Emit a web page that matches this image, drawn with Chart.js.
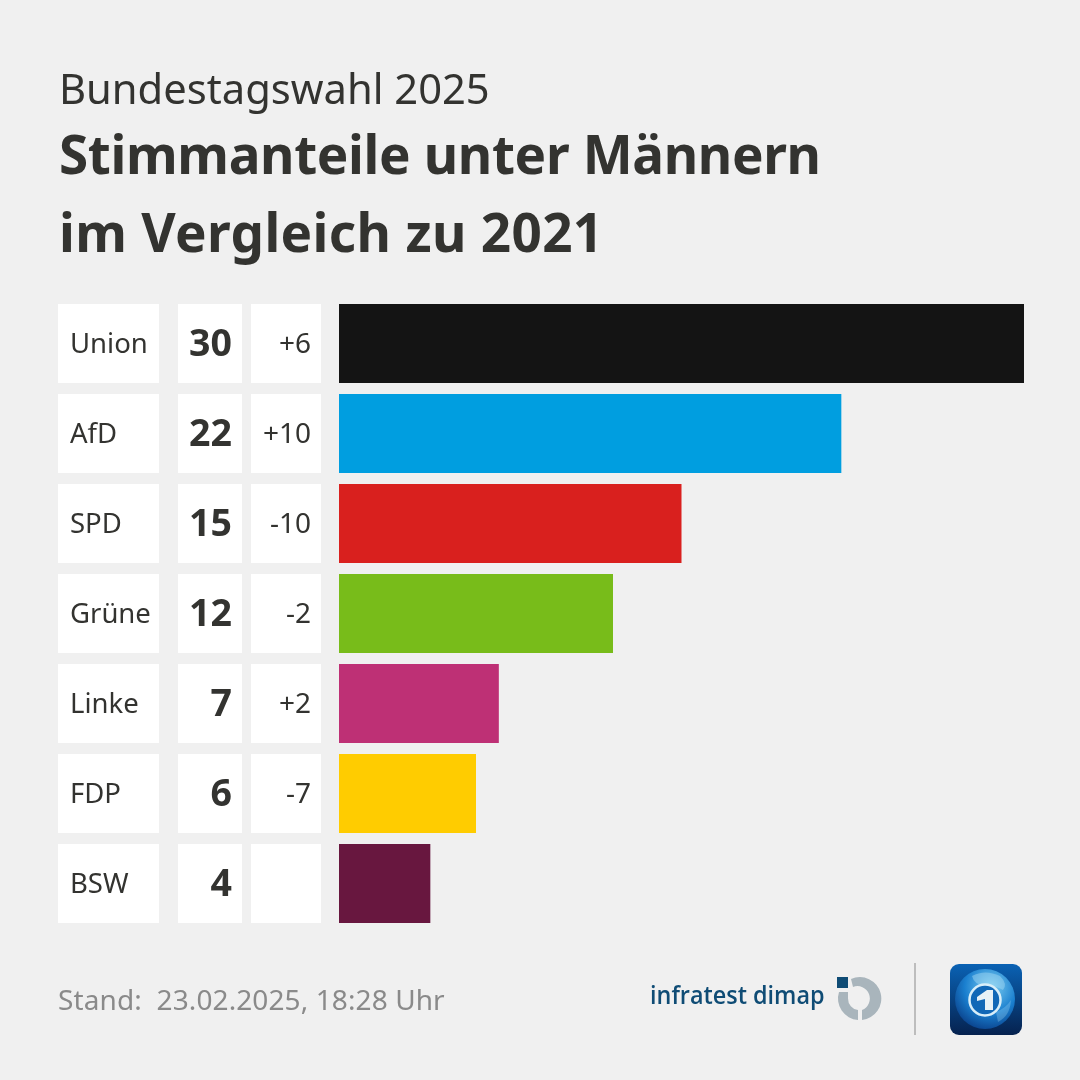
<!DOCTYPE html>
<html lang="de"><head><meta charset="utf-8">
<style>
html,body{margin:0;padding:0;background:#f0f0f0;width:1080px;height:1080px;overflow:hidden}
#wrap{position:relative;width:1080px;height:1080px}
canvas{position:absolute;left:0;top:0}
.t{position:absolute;white-space:nowrap;font-family:"Noto Sans";color:#333330;line-height:1}
svg{position:absolute}
</style></head><body>
<div id="wrap">
<canvas id="c" width="1080" height="1080"></canvas>
<div class="t" style="left:59px;top:67px;font-size:41.7px">Bundestagswahl 2025</div>
<div class="t" style="left:59px;top:127px;font-size:53px;font-weight:700;letter-spacing:-.35px">Stimmanteile unter Männern</div>
<div class="t" style="left:59px;top:205px;font-size:53px;font-weight:700;letter-spacing:.35px">im Vergleich zu 2021</div>
<div class="t" style="left:58px;top:985px;font-size:28px;color:#8a8a8a;letter-spacing:.1px">Stand:&nbsp; 23.02.2025, 18:28 Uhr</div>
<div class="t" style="left:650px;top:981px;font-size:26px;font-weight:600;color:#0f4c75;font-family:'Open Sans';transform:scaleX(.9);transform-origin:left top">infratest dimap</div>
<svg style="left:830px;top:970px" width="60" height="60" viewBox="830 970 60 60">
<rect x="837" y="977" width="11" height="11" fill="#0f4c75"/>
<path d="M851 979 A 21.5 21.5 0 1 1 862 1020 L 862 1010 A 11.5 11.5 0 0 0 853 987 Z" fill="#a9b5bc"/>
<path d="M839 992 L 848 992 L 848 998.5 A 11.5 11.5 0 0 0 858 1010 L 858 1020 A 21.5 21.5 0 0 1 839 992 Z" fill="#a9b5bc"/>
</svg>
<svg style="left:910px;top:960px" width="10" height="80"><rect x="4" y="3" width="2" height="72" fill="#bdbdbd"/></svg>
<svg style="left:945px;top:958px" width="84" height="84" viewBox="945 958 84 84">
<defs>
<linearGradient id="bg" x1="0" y1="0" x2="0" y2="1"><stop offset="0" stop-color="#0a62b4"/><stop offset="1" stop-color="#06224f"/></linearGradient>
<radialGradient id="gl" cx="0.6" cy="0.3" r="0.8"><stop offset="0" stop-color="#7fd0f2"/><stop offset="0.55" stop-color="#1a7fcf"/><stop offset="1" stop-color="#07367f"/></radialGradient>
</defs>
<rect x="950" y="964" width="72" height="71" rx="9" fill="url(#bg)"/>
<circle cx="985" cy="999" r="30" fill="url(#gl)"/>
<path d="M972 976 Q985 969 1000 976 Q1008 984 1003 990 Q992 984 984 986 Q974 984 972 976 Z" fill="#a8dcf4" opacity=".45"/>
<path d="M996 1012 Q1006 1008 1011 1000 Q1010 1016 998 1022 Z" fill="#a8dcf4" opacity=".3"/>
<circle cx="985" cy="1000" r="15.5" fill="#1168b7" stroke="#d8eef9" stroke-width="2.5"/>
<path d="M977 997 L987 990 L993 990 L993 1010 L985 1010 L985 999 L977 1001 Z" fill="#e7f1f6"/>
</svg>
</div>
<script src="https://cdn.jsdelivr.net/npm/chart.js@4/dist/chart.umd.min.js"></script>
<script>
const parties = ["Union","AfD","SPD","Grüne","Linke","FDP","BSW"];
const shares = [30,22,15,12,7,6,4];
const changes = ["+6","+10","-10","-2","+2","-7",""];
const colors = ["#141414","#009ee0","#d9201e","#78bc1a","#be3075","#ffcc00","#68173f"];

const tablePlugin = {
  id:"table",
  beforeDatasetsDraw(chart){
    const {ctx,scales:{y}} = chart;
    const h = 79;
    ctx.save();
    parties.forEach((name,i)=>{
      const cy = y.getPixelForValue(i);
      const top = cy - h/2;
      ctx.fillStyle="#ffffff";
      ctx.fillRect(58,top,101,h);
      ctx.fillRect(178,top,64,h);
      ctx.fillRect(251,top,70,h);
      ctx.fillStyle="#333330";
      ctx.textBaseline="middle";
      ctx.textAlign="left";
      ctx.font='27.5px "Noto Sans"';
      ctx.fillText(name,70,cy+1.5);
      ctx.textAlign="right";
      ctx.font='700 37.5px "Noto Sans"';
      ctx.fillText(String(shares[i]),232,cy+2);
      ctx.font='28px "Noto Sans"';
      ctx.fillText(changes[i],311,cy+1.5);
    });
    ctx.restore();
  }
};

new Chart(document.getElementById("c"),{
  type:"bar",
  plugins:[tablePlugin],
  data:{labels:parties,datasets:[{data:shares,backgroundColor:colors,borderWidth:0,barPercentage:79/90,categoryPercentage:1}]},
  options:{
    indexAxis:"y",responsive:false,animation:false,
    layout:{padding:{left:339,right:56,top:298.5,bottom:151.5}},
    plugins:{legend:{display:false},title:{display:false},tooltip:{enabled:false}},
    scales:{
      x:{display:false,min:0,max:30},
      y:{display:false}
    }
  }
});
</script>
</body></html>
